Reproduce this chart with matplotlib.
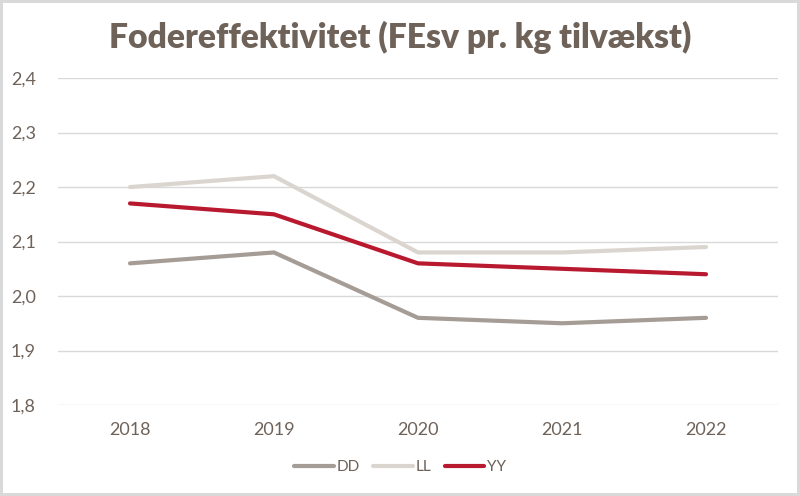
import numpy as np
import matplotlib.pyplot as plt
from matplotlib.ticker import FuncFormatter

years = ["2018", "2019", "2020", "2021", "2022"]
dd = [2.06, 2.08, 1.96, 1.95, 1.96]
ll = [2.20, 2.22, 2.08, 2.08, 2.09]
yy = [2.17, 2.15, 2.06, 2.05, 2.04]

txt = "#6e6259"
plt.rcParams['font.family'] = ['Lato', 'DejaVu Sans']

fig = plt.figure(figsize=(8, 4.96), dpi=100)
fig.patch.set_edgecolor("#d9d9d9")
fig.patch.set_linewidth(3)
ax = fig.add_axes([0.0725, 0.1835, 0.9, 0.659])

x = np.arange(len(years))
ax.plot(x, dd, color="#a59c95", lw=3, label="DD", solid_capstyle="round")
ax.plot(x, ll, color="#dbd5cf", lw=3, label="LL", solid_capstyle="round")
ax.plot(x, yy, color="#b8192f", lw=3, label="YY", solid_capstyle="round")

ax.set_xlim(-0.5, 4.5)
ax.set_ylim(1.8, 2.4)
ax.set_yticks(np.arange(1.8, 2.41, 0.1))
ax.yaxis.set_major_formatter(FuncFormatter(lambda v, p: f"{v:.1f}".replace(".", ",")))
ax.set_xticks(x)
ax.set_xticklabels(years)
ax.grid(axis="y", color="#d9d9d9", lw=1)
ax.set_axisbelow(True)
for s in ax.spines.values():
    s.set_visible(False)
ax.tick_params(length=0, colors=txt, labelsize=13)
ax.tick_params(axis="y", pad=16)
ax.tick_params(axis="x", pad=12)

fig.suptitle("Fodereffektivitet (FEsv pr. kg tilvækst)", x=0.5, y=0.957,
             fontsize=24.2, fontweight="heavy", color=txt)
leg = fig.legend(loc="center", bbox_to_anchor=(0.5, 0.058), ncol=3, frameon=False,
                 fontsize=11, handlelength=2.6, handletextpad=0.15, columnspacing=0.9)
for t in leg.get_texts():
    t.set_color(txt)

fig.savefig("out.png", dpi=100, edgecolor=fig.get_edgecolor())
